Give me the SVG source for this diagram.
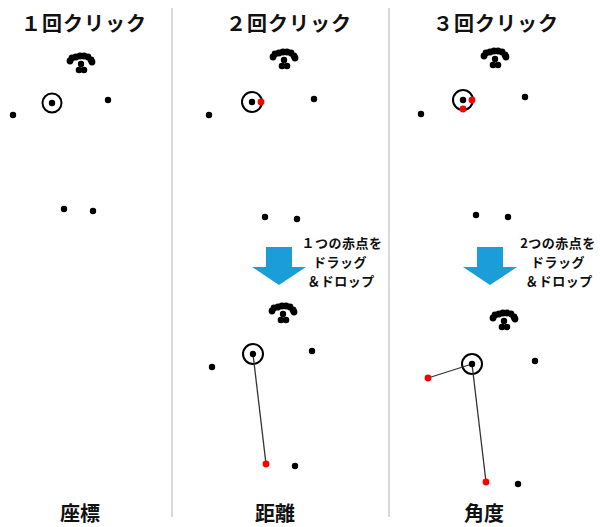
<svg xmlns="http://www.w3.org/2000/svg" xmlns:xlink="http://www.w3.org/1999/xlink" width="600" height="527" viewBox="0 0 600 527">
<style>
.t{font-family:"Noto Sans CJK JP","Noto Sans",sans-serif;font-weight:bold;fill:#111;text-anchor:middle}
.title{font-size:20px;letter-spacing:1px}
.lab{font-size:20px}
.note{font-size:13px;letter-spacing:0.5px}
.d{fill:#000}
.r{fill:#ff0000}
.ring{fill:none;stroke:#000;stroke-width:2}
.ln{stroke:#333;stroke-width:1.3}
.sep{stroke:#d9d9d9;stroke-width:2}
.arr{fill:#1b9dd9}
</style>
<defs>
<g id="blob">
<circle class="d" cx="-11" cy="-1" r="3.4"/><circle class="d" cx="-9" cy="-4" r="3.4"/><circle class="d" cx="-5" cy="-5" r="3.4"/><circle class="d" cx="-1" cy="-6" r="3.4"/><circle class="d" cx="3" cy="-6" r="3.4"/><circle class="d" cx="7" cy="-5" r="3.4"/><circle class="d" cx="10" cy="-2" r="3.4"/><circle class="d" cx="11" cy="0" r="3.4"/>
<circle class="d" cx="0" cy="2" r="3.2"/><circle class="d" cx="-2" cy="8" r="3.3"/><circle class="d" cx="3" cy="8" r="3.3"/>
</g>
<path id="arrow" d="M-13,0 H13 V20 H27 L0,38 L-27,20 H-13 Z"/>
</defs>
<g id="separators">
<line class="sep" x1="172" y1="8" x2="172" y2="517"/>
<line class="sep" x1="389" y1="8" x2="389" y2="517"/>
</g>
<g id="panel1">
<text class="t title" x="84" y="31">１回クリック</text>
<use xlink:href="#blob" x="81" y="62"/>
<circle class="ring" cx="52" cy="103" r="9.5"/><circle class="d" cx="52" cy="103" r="3.2"/>
<circle class="d" cx="108" cy="100" r="3.2"/>
<circle class="d" cx="13" cy="115" r="3.2"/>
<circle class="d" cx="64" cy="209" r="3.2"/>
<circle class="d" cx="93" cy="211" r="3.2"/>
<text class="t lab" x="80" y="521">座標</text>
</g>
<g id="panel2">
<text class="t title" x="289" y="31">２回クリック</text>
<use xlink:href="#blob" x="284" y="58"/>
<circle class="ring" cx="252" cy="102" r="10"/><circle class="d" cx="252" cy="102" r="3.2"/><circle class="r" cx="261" cy="102" r="3.4"/>
<circle class="d" cx="314" cy="99" r="3.2"/>
<circle class="d" cx="209" cy="115" r="3.2"/>
<circle class="d" cx="265" cy="217" r="3.2"/>
<circle class="d" cx="297" cy="219" r="3.2"/>
</g>
<g id="arrow2">
<use xlink:href="#arrow" class="arr" x="279" y="247"/>
<text class="t note" x="342" y="248">１つの赤点を</text>
<text class="t note" x="340" y="267">ドラッグ</text>
<text class="t note" x="341" y="286">＆ドロップ</text>
</g>
<g id="result2">
<use xlink:href="#blob" x="283" y="312"/>
<circle class="ring" cx="253" cy="354" r="10"/>
<circle class="d" cx="212" cy="367" r="3.2"/>
<circle class="d" cx="312" cy="351" r="3.2"/>
<circle class="d" cx="295" cy="466" r="3.2"/>
<text class="t lab" x="275" y="521">距離</text>
</g>
<g id="panel3">
<text class="t title" x="496" y="31">３回クリック</text>
<use xlink:href="#blob" x="495" y="57"/>
<circle class="ring" cx="463" cy="100" r="10"/><circle class="d" cx="463" cy="100" r="3.2"/><circle class="r" cx="472" cy="100" r="3.4"/><circle class="r" cx="463" cy="109" r="3.4"/>
<circle class="d" cx="525" cy="97" r="3.2"/>
<circle class="d" cx="421" cy="114" r="3.2"/>
<circle class="d" cx="476" cy="215" r="3.2"/>
<circle class="d" cx="508" cy="217" r="3.2"/>
</g>
<g id="arrow3">
<use xlink:href="#arrow" class="arr" x="490" y="247"/>
<text class="t note" x="558" y="248">2つの赤点を</text>
<text class="t note" x="558" y="267">ドラッグ</text>
<text class="t note" x="559" y="286">＆ドロップ</text>
</g>
<g id="result3">
<use xlink:href="#blob" x="504" y="319"/>
<circle class="ring" cx="472" cy="364" r="10"/>
<circle class="d" cx="535" cy="361" r="3.2"/>
<circle class="d" cx="518" cy="484" r="3.2"/>
<text class="t lab" x="484" y="521">角度</text>
</g>
<g id="connectors">
<line class="ln" x1="253" y1="354" x2="266" y2="464"/>
<line class="ln" x1="472" y1="364" x2="428" y2="378"/>
<line class="ln" x1="472" y1="364" x2="486" y2="482"/>
<circle class="d" cx="253" cy="354" r="3.2"/><circle class="r" cx="266" cy="464" r="3.4"/>
<circle class="d" cx="472" cy="364" r="3.2"/><circle class="r" cx="428" cy="378" r="3.4"/><circle class="r" cx="486" cy="482" r="3.4"/>
</g>
</svg>
